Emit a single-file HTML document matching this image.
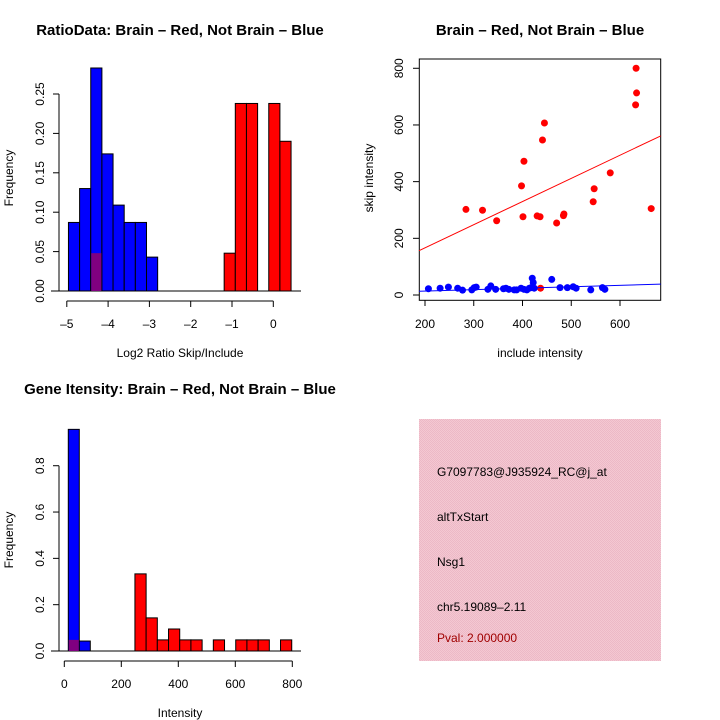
<!DOCTYPE html>
<html><head><meta charset="utf-8"><style>
body{margin:0;background:#fff}
svg{display:block;font-family:"Liberation Sans",sans-serif}
.t{font-weight:bold;font-size:15px}
.l{font-size:12px}
</style></head><body>
<svg id="s" width="720" height="720" viewBox="0 0 720 720">
<defs><pattern id="pk" width="2" height="2" patternUnits="userSpaceOnUse"><rect width="2" height="2" fill="#f4c8d2"/><rect width="1" height="1" fill="#ecb8c6"/><rect x="1" y="1" width="1" height="1" fill="#ecb8c6"/></pattern></defs>
<text class="t" x="180" y="35" text-anchor="middle">RatioData: Brain – Red, Not Brain – Blue</text>
<text class="t" x="540" y="35" text-anchor="middle">Brain – Red, Not Brain – Blue</text>
<text class="t" x="180" y="394" text-anchor="middle">Gene Itensity: Brain – Red, Not Brain – Blue</text>
<g id="p1"></g>
<g id="p2"></g>
<g id="p3"></g>
<g>
<rect x="419" y="419" width="242" height="242" fill="url(#pk)"/>
<text class="l" x="437" y="476">G7097783@J935924_RC@j_at</text>
<text class="l" x="437" y="521">altTxStart</text>
<text class="l" x="437" y="566">Nsg1</text>
<text class="l" x="437" y="611">chr5.19089–2.11</text>
<text class="l" x="437" y="642" fill="#a00000">Pval: 2.000000</text>
</g>
</svg>
<script>
// ---- Plot 1 data ----
const ratioBlueStart = -4.96, ratioBlueWidth = 0.27;
const ratioBlueFreq = [0.087,0.130,0.283,0.174,0.109,0.087,0.087,0.043];
const ratioRedStart = -1.19, ratioRedWidth = 0.27;
const ratioRedFreq = [0.048,0.238,0.238,0,0.238,0.190];
const ratioOverlapBin = -4.42, ratioOverlapFreq = 0.048;
const ratioXTicks = [-5,-4,-3,-2,-1,0];
const ratioYTicks = [0,0.05,0.10,0.15,0.20,0.25];
const ratioYLabels = ["0.00","0.05","0.10","0.15","0.20","0.25"];
// ---- Plot 2 data ----
const redX = [284,318,347,398,401,403,430,436,441,445,470,484,485,545,547,580,633,634,632,664,437];
const redY = [302,299,262,385,276,472,279,276,547,607,254,280,286,329,375,431,800,713,671,305,24];
const blueX = [207,231,248,267,277,296,301,305,329,335,345,361,366,372,383,388,397,403,409,414,418,420,422,424,460,477,492,504,510,540,564,569];
const blueY = [22,24,28,24,17,18,26,28,20,32,20,22,24,20,18,18,24,20,18,24,26,59,44,24,55,26,26,29,24,18,26,20];
const redFit = [3,0.817], blueFit = [4,0.05];
const scXTicks = [200,300,400,500,600];
const scYTicks = [0,200,400,600,800];
// ---- Plot 3 data ----
const intBlueStart = 14, intBlueWidth = 38.6;
const intBlueFreq = [0.957,0.043];
const intRedStart = 12, intRedWidth = 39.3;
const intRedFreq = [0.048,0,0,0,0,0,0.333,0.143,0.048,0.095,0.048,0.048,0,0.048,0,0.048,0.048,0.048,0,0.048];
const intXTicks = [0,200,400,600,800];
const intYTicks = [0,0.2,0.4,0.6,0.8];
const intYLabels = ["0.0","0.2","0.4","0.6","0.8"];

const NS="http://www.w3.org/2000/svg";
function mk(g,tag,a){const e=document.createElementNS(NS,tag);for(const k in a)e.setAttribute(k,a[k]);g.appendChild(e);return e;}
function txt(g,x,y,s,rot,anchor){const e=mk(g,'text',{x:x,y:y,'font-size':12,'text-anchor':anchor||'middle'});if(rot)e.setAttribute('transform','rotate(-90 '+x+' '+y+')');e.textContent=s;return e;}

// Plot 1
(function(){
const g=document.getElementById('p1');
const X=v=>273.3+41.3*v, Y=v=>291-788*v;
mk(g,'line',{x1:51,y1:291,x2:301,y2:291,stroke:'#000'});
function bars(start,w,arr,fill,name){arr.forEach((f,i)=>{if(f<=0)return;const x0=X(start+i*w),x1=X(start+(i+1)*w);
const r=mk(g,'rect',{x:x0,y:Y(f),width:x1-x0,height:Y(0)-Y(f),fill:fill,stroke:'#000'});

});}
bars(ratioBlueStart,ratioBlueWidth,ratioBlueFreq,'#0000ff','ratio-blue-bar');
bars(ratioRedStart,ratioRedWidth,ratioRedFreq,'#ff0000','ratio-red-bar');
const o=mk(g,'rect',{x:X(ratioOverlapBin)+0.5,y:Y(ratioOverlapFreq),width:X(ratioOverlapBin+ratioBlueWidth)-X(ratioOverlapBin)-1,height:Y(0)-Y(ratioOverlapFreq),fill:'#800080'});


mk(g,'line',{x1:X(-5),y1:301,x2:X(0),y2:301,stroke:'#000'});
ratioXTicks.forEach(t=>{mk(g,'line',{x1:X(t),y1:301,x2:X(t),y2:307,stroke:'#000'});txt(g,X(t),328,t===0?'0':'–'+Math.abs(t));});
mk(g,'line',{x1:59,y1:Y(0),x2:59,y2:Y(0.25),stroke:'#000'});
ratioYTicks.forEach((t,i)=>{mk(g,'line',{x1:53,y1:Y(t),x2:59,y2:Y(t),stroke:'#000'});txt(g,44,Y(t),ratioYLabels[i],true);});
txt(g,180,357,'Log2 Ratio Skip/Include');
txt(g,13,178,'Frequency',true);
})();

// Plot 2
(function(){
const g=document.getElementById('p2');
const X=v=>425+0.4875*(v-200), Y=v=>295-0.2834*v;
mk(g,'rect',{x:419.3,y:59,width:241.4,height:241.3,fill:'none',stroke:'#000'});
redX.forEach((x,i)=>{const c=mk(g,'circle',{cx:X(x),cy:Y(redY[i]),r:3.5,fill:'#ff0000'});

});
blueX.forEach((x,i)=>{const c=mk(g,'circle',{cx:X(x),cy:Y(blueY[i]),r:3.5,fill:'#0000ff'});

});
const x0=187.7,x1=683.5;
const rl=mk(g,'line',{x1:X(x0),y1:Y(redFit[0]+redFit[1]*x0),x2:X(x1),y2:Y(redFit[0]+redFit[1]*x1),stroke:'#ff0000'});


const bl=mk(g,'line',{x1:X(x0),y1:Y(blueFit[0]+blueFit[1]*x0),x2:X(x1),y2:Y(blueFit[0]+blueFit[1]*x1),stroke:'#0000ff'});


scXTicks.forEach(t=>{mk(g,'line',{x1:X(t),y1:300.3,x2:X(t),y2:306,stroke:'#000'});txt(g,X(t),328,String(t));});
scYTicks.forEach(t=>{mk(g,'line',{x1:413,y1:Y(t),x2:419.3,y2:Y(t),stroke:'#000'});txt(g,403,Y(t),String(t),true);});
txt(g,540,357,'include intensity');
txt(g,373,178,'skip intensity',true);
})();

// Plot 3
(function(){
const g=document.getElementById('p3');
const X=v=>64.3+0.285*v, Y=v=>651-231.6*v;
mk(g,'line',{x1:51,y1:651,x2:301,y2:651,stroke:'#000'});
function bars(start,w,arr,fill,name){arr.forEach((f,i)=>{if(f<=0)return;const x0=X(start+i*w),x1=X(start+(i+1)*w);
const r=mk(g,'rect',{x:x0,y:Y(f),width:x1-x0,height:Y(0)-Y(f),fill:fill,stroke:'#000'});

});}
bars(intBlueStart,intBlueWidth,intBlueFreq,'#0000ff','intensity-blue-bar');
bars(intRedStart+6*intRedWidth,intRedWidth,intRedFreq.slice(6),'#ff0000','intensity-red-bar');
const f0=intRedFreq[0];
const o=mk(g,'rect',{x:X(intBlueStart)+0.5,y:Y(f0),width:X(intBlueStart+intBlueWidth)-X(intBlueStart)-1,height:Y(0)-Y(f0),fill:'#800080'});


mk(g,'line',{x1:X(0),y1:661,x2:X(800),y2:661,stroke:'#000'});
intXTicks.forEach(t=>{mk(g,'line',{x1:X(t),y1:661,x2:X(t),y2:667,stroke:'#000'});txt(g,X(t),688,String(t));});
mk(g,'line',{x1:59,y1:Y(0),x2:59,y2:Y(0.8),stroke:'#000'});
intYTicks.forEach((t,i)=>{mk(g,'line',{x1:53,y1:Y(t),x2:59,y2:Y(t),stroke:'#000'});txt(g,44,Y(t),intYLabels[i],true);});
txt(g,180,717,'Intensity');
txt(g,13,540,'Frequency',true);
})();
</script>
</body></html>
